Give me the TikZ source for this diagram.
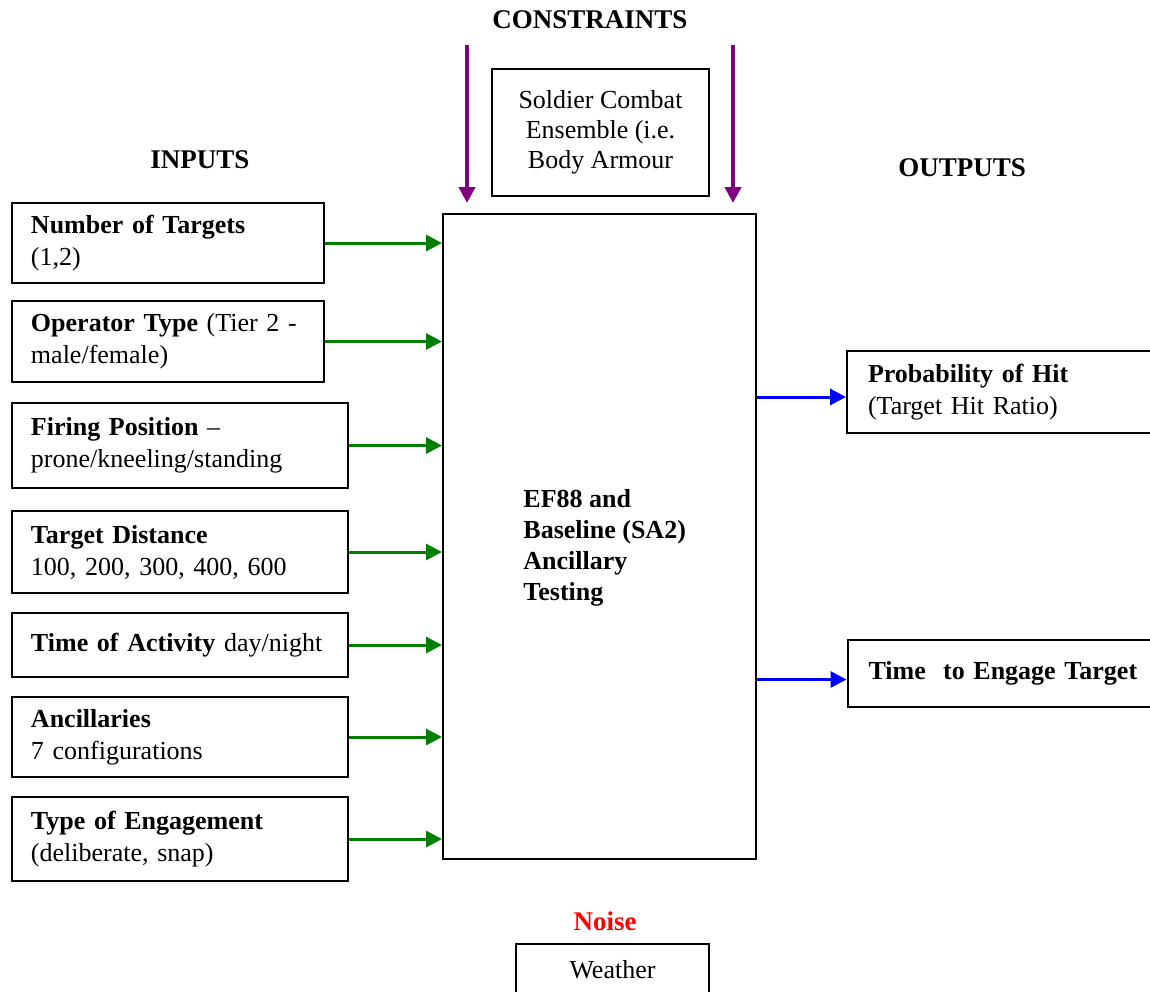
\documentclass[tikz,border=0pt]{standalone}
\usepackage{fontspec}
\setmainfont{Liberation Serif}
\usetikzlibrary{arrows.meta}
\definecolor{flowgreen}{RGB}{0,128,0}
\definecolor{flowblue}{RGB}{0,0,255}
\definecolor{flowpurple}{RGB}{128,0,128}

\begin{document}
\begin{tikzpicture}[x=0.5pt,y=-0.5pt,
		box/.style={draw=black,line width=1pt,inner ysep=0pt,font=\fontsize{13}{16}\selectfont},
		inbox/.style={box,align=left,inner xsep=9.5pt},
		outbox/.style={box,align=left,inner xsep=10.5pt,text width=140.5pt},
		head/.style={font=\fontsize{13.5}{16}\selectfont\bfseries},
		inarrow/.style={flowgreen,line width=1.5pt,-{Triangle[length=8pt,width=8pt]}},
		outarrow/.style={flowblue,line width=1.5pt,-{Triangle[length=8pt,width=8pt]}},
		conarrow/.style={flowpurple,line width=2pt,-{Triangle[length=8pt,width=8pt]}}]
		\clip (0,0) rectangle (1150,991);
		
		% headings
		\node[head] (constrlbl) at (590,20) {CONSTRAINTS};
		\node[head] (inlbl) at (200,160) {INPUTS};
		\node[head] (outlbl) at (962,168) {OUTPUTS};
		\node[head,red] (noiselbl) at (605,921) {Noise};
		
		% process
		\node[box,minimum width=156.5pt,minimum height=322.5pt] (main) at (599.5,536.5) {};
		\node[align=left,anchor=west,inner sep=0pt,
			font=\fontsize{13}{15.5}\selectfont\bfseries] (maintext) at (523,548)
			{EF88 and\\Baseline (SA2)\\Ancillary\\Testing};
		
		% constraints
		\node[box,minimum width=108.5pt,minimum height=63.5pt,align=center,
			font=\fontsize{13}{15}\selectfont] (ensemble) at (600.5,132.5)
			{Soldier Combat\\Ensemble (i.e.\\Body Armour};
		\coordinate (conAtop) at (467,45);
		\coordinate (conAend) at (467,203);
		\coordinate (conBtop) at (733,45);
		\coordinate (conBend) at (733,203);
		\draw[conarrow] (conAtop) -- (conAend);
		\draw[conarrow] (conBtop) -- (conBend);
		
		% inputs
		\node[inbox,text width=137pt,minimum height=40pt] (in1) at (168,243)
			{\textbf{Number of Targets}\\(1,2)};
		\node[inbox,text width=137pt,minimum height=40.5pt] (in2) at (168,341.5)
			{\textbf{Operator Type} (Tier 2 -\\male/female)};
		\node[inbox,text width=149pt,minimum height=42.5pt] (in3) at (180,445.5)
			{\textbf{Firing Position} --\\prone/kneeling/standing};
		\node[inbox,text width=149pt,minimum height=41pt] (in4) at (180,552)
			{\textbf{Target Distance}\\100, 200, 300, 400, 600};
		\node[inbox,text width=149pt,minimum height=32pt] (in5) at (180,645)
			{\textbf{Time of Activity} day/night};
		\node[inbox,text width=149pt,minimum height=40pt] (in6) at (180,737)
			{\textbf{Ancillaries}\\7 configurations};
		\node[inbox,text width=149pt,minimum height=42pt] (in7) at (180,839)
			{\textbf{Type of Engagement}\\(deliberate, snap)};
		
		\foreach \i in {1,...,7}
			\draw[inarrow] (in\i.east) -- (in\i.east -| main.west);
		
		% outputs
		\node[outbox,minimum height=41pt] (prob) at (1008.5,392)
			{\textbf{Probability of Hit}\\(Target Hit Ratio)};
		\node[outbox,minimum height=33.5pt] (engage) at (1009,673.5)
			{\textbf{Time\ \ to Engage Target}};
		\coordinate (probin) at ([yshift=-2.5pt]prob.west);
		\coordinate (engagein) at ([yshift=-3pt]engage.west);
		\draw[outarrow] (main.east |- probin) -- (probin);
		\draw[outarrow] (main.east |- engagein) -- (engagein);
		
		% noise
		\node[box,minimum width=96.5pt,minimum height=26pt] (weather) at (612.5,970) {Weather};
	\end{tikzpicture}
\end{document}
